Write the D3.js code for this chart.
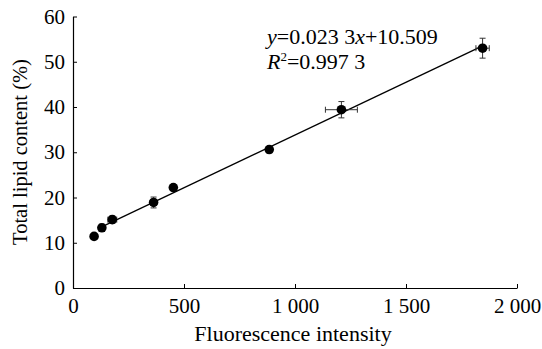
<!DOCTYPE html>
<html>
<head>
<meta charset="utf-8">
<script src="https://cdn.jsdelivr.net/npm/d3@7/dist/d3.min.js"></script>
<style>
  body { margin: 0; background: #fff; }
  text { font-family: "Liberation Serif", "Times New Roman", serif; fill: #000; }
</style>
</head>
<body>
<div id="chart"></div>
<script>
// data
const xVals = [95, 130, 177, 363, 452, 884, 1209, 1845];
const yVals = [11.4, 13.3, 15.1, 18.9, 22.2, 30.6, 39.4, 53.0];
const xErr = [8, 10, 20, 12, 8, 12, 72, 30];
const yErr = [0.5, 0.8, 0.8, 1.2, 0.6, 0.7, 1.8, 2.2];
const xTicks = [0, 500, 1000, 1500, 2000];
const yTicks = [0, 10, 20, 30, 40, 50, 60];
const slope = 0.0233, intercept = 10.509;
const fitRange = [115, 1845];

const width = 542, height = 349;
const margin = { left: 73, right: 25, top: 16.5, bottom: 61 };

const svg = d3.select('#chart')
  .append('svg')
  .attr('width', width)
  .attr('height', height);

const x = d3.scaleLinear().domain([0, 2000]).range([margin.left, width - margin.right]);
const y = d3.scaleLinear().domain([0, 60]).range([height - margin.bottom, margin.top]);

const fmt = d => d >= 1000 ? d3.format(',')(d).replace(',', ' ') : String(d);

// --- AXES ---
const xAxis = svg.append('g')
  .attr('transform', `translate(0,${y(0)})`)
  .call(d3.axisBottom(x).tickValues(xTicks).tickSizeInner(-4).tickSizeOuter(0).tickPadding(10).tickFormat(fmt));
xAxis.selectAll('text').attr('font-size', 21).attr('dy', '0.71em');

const yAxis = svg.append('g')
  .attr('transform', `translate(${x(0)},0)`)
  .call(d3.axisLeft(y).tickValues(yTicks).tickSizeInner(-4).tickSizeOuter(0).tickPadding(8));
yAxis.selectAll('text').attr('font-size', 21);

svg.selectAll('.domain').attr('stroke', '#000').attr('stroke-width', 1.2);
svg.selectAll('.tick line').attr('stroke', '#000');

// --- FIT LINE ---
svg.append('line')
  .attr('x1', x(fitRange[0])).attr('y1', y(slope * fitRange[0] + intercept))
  .attr('x2', x(fitRange[1])).attr('y2', y(slope * fitRange[1] + intercept))
  .attr('stroke', '#000')
  .attr('stroke-width', 1.3);

// --- ERROR BARS ---
const pts = xVals.map((v, i) => ({ x: v, y: yVals[i], ex: xErr[i], ey: yErr[i] }));
const eb = svg.append('g').attr('stroke', '#333').attr('stroke-width', 1);
const cap = 3;
pts.forEach(d => {
  eb.append('line').attr('x1', x(d.x)).attr('x2', x(d.x)).attr('y1', y(d.y - d.ey)).attr('y2', y(d.y + d.ey));
  eb.append('line').attr('x1', x(d.x) - cap).attr('x2', x(d.x) + cap).attr('y1', y(d.y - d.ey)).attr('y2', y(d.y - d.ey));
  eb.append('line').attr('x1', x(d.x) - cap).attr('x2', x(d.x) + cap).attr('y1', y(d.y + d.ey)).attr('y2', y(d.y + d.ey));
  eb.append('line').attr('x1', x(d.x - d.ex)).attr('x2', x(d.x + d.ex)).attr('y1', y(d.y)).attr('y2', y(d.y));
  eb.append('line').attr('x1', x(d.x - d.ex)).attr('x2', x(d.x - d.ex)).attr('y1', y(d.y) - cap).attr('y2', y(d.y) + cap);
  eb.append('line').attr('x1', x(d.x + d.ex)).attr('x2', x(d.x + d.ex)).attr('y1', y(d.y) - cap).attr('y2', y(d.y) + cap);
});

// --- POINTS ---
svg.append('g').selectAll('circle')
  .data(pts)
  .join('circle')
  .attr('cx', d => x(d.x))
  .attr('cy', d => y(d.y))
  .attr('r', 4.8)
  .attr('fill', '#000');

// --- EQUATION ---
const eq = svg.append('text').attr('x', 267).attr('y', 43.5).attr('font-size', 22);
eq.append('tspan').attr('font-style', 'italic').text('y');
eq.append('tspan').text('=0.023 3');
eq.append('tspan').attr('font-style', 'italic').text('x');
eq.append('tspan').text('+10.509');

const r2 = svg.append('text').attr('x', 267).attr('y', 69).attr('font-size', 22);
r2.append('tspan').attr('font-style', 'italic').text('R');
r2.append('tspan').attr('font-size', 13).attr('dy', -8).text('2');
r2.append('tspan').attr('dy', 8).text('=0.997 3');

// --- AXIS TITLES ---
svg.append('text')
  .attr('x', 293)
  .attr('y', 340.5)
  .attr('text-anchor', 'middle')
  .attr('font-size', 22)
  .text('Fluorescence intensity');

svg.append('text')
  .attr('transform', `translate(27,152) rotate(-90)`)
  .attr('text-anchor', 'middle')
  .attr('font-size', 20.5)
  .text('Total lipid content (%)');
</script>
</body>
</html>
